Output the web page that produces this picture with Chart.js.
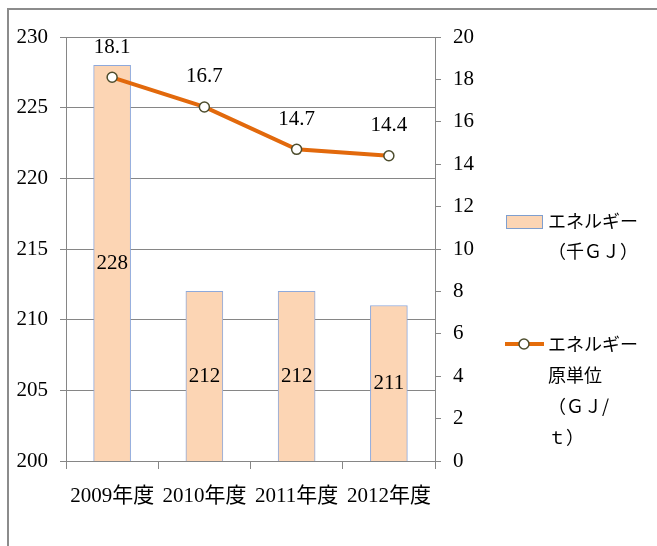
<!DOCTYPE html>
<html>
<head>
<meta charset="utf-8">
<script src="https://cdn.jsdelivr.net/npm/chart.js@4/dist/chart.umd.min.js"></script>
<style>
  html, body { margin: 0; padding: 0; background: #fff; }
</style>
</head>
<body>
<canvas id="energyChart" width="657" height="546"></canvas>
<script>
// データ
const years = ["2009年度", "2010年度", "2011年度", "2012年度"];
const energy = [228, 212, 212, 211];          // エネルギー（千ＧＪ）
const intensity = [18.1, 16.7, 14.7, 14.4];   // エネルギー原単位（ＧＪ/ｔ）
const barLegend = ["エネルギー", "（千ＧＪ）"];
const lineLegend = ["エネルギー", "原単位", "（ＧＪ/", "ｔ）"];

const serif = '"Liberation Serif", "Noto Sans CJK JP"';
const gray = "#868686";

// 値ラベル・凡例・枠線
const extras = {
  id: "extras",
  afterDatasetsDraw(chart) {
    const ctx = chart.ctx;
    const bottom = chart.chartArea.bottom;
    ctx.save();
    ctx.font = "21px " + serif;
    ctx.fillStyle = "#000";
    ctx.textAlign = "center";
    ctx.textBaseline = "middle";
    chart.getDatasetMeta(1).data.forEach((bar, i) => {
      ctx.fillText(String(energy[i]), bar.x, (bar.y + bottom) / 2);
    });
    chart.getDatasetMeta(0).data.forEach((pt, i) => {
      ctx.fillText(intensity[i].toFixed(1), pt.x, pt.y - 30);
    });
    ctx.restore();
  },
  afterDraw(chart) {
    const ctx = chart.ctx;
    const x0 = chart.chartArea.right + 71;
    ctx.save();
    // 外枠
    ctx.strokeStyle = "#8c8c8c";
    ctx.lineWidth = 2;
    ctx.beginPath();
    ctx.moveTo(8, 546);
    ctx.lineTo(8, 9);
    ctx.lineTo(657, 9);
    ctx.stroke();

    // 凡例：棒
    ctx.fillStyle = "#FCD5B4";
    ctx.fillRect(x0, 215, 36, 13);
    ctx.strokeStyle = "#7F9FCF";
    ctx.lineWidth = 1;
    ctx.strokeRect(x0 + 0.5, 215.5, 36, 13);

    ctx.font = '18px "Noto Sans CJK JP"';
    ctx.fillStyle = "#000";
    ctx.textAlign = "left";
    ctx.textBaseline = "middle";
    barLegend.forEach((t, i) => ctx.fillText(t, x0 + 42, 221 + i * 30));

    // 凡例：折れ線
    ctx.strokeStyle = "#E46C0A";
    ctx.lineWidth = 4;
    ctx.beginPath();
    ctx.moveTo(x0 - 1, 344);
    ctx.lineTo(x0 + 38, 344);
    ctx.stroke();
    ctx.beginPath();
    ctx.arc(x0 + 18, 344, 5, 0, Math.PI * 2);
    ctx.fillStyle = "#fff";
    ctx.fill();
    ctx.strokeStyle = "#4D4D2D";
    ctx.lineWidth = 1.5;
    ctx.stroke();

    ctx.fillStyle = "#000";
    lineLegend.forEach((t, i) => ctx.fillText(t, x0 + 42, 344 + i * 31));
    ctx.restore();
  }
};

new Chart(document.getElementById("energyChart"), {
  data: {
    labels: years,
    datasets: [
      {
        type: "line",
        label: "エネルギー原単位",
        data: intensity,
        yAxisID: "y2",
        borderColor: "#E2690C",
        borderWidth: 4,
        pointRadius: 5,
        pointBackgroundColor: "#fff",
        pointBorderColor: "#4D4D2D",
        pointBorderWidth: 1.5,
        tension: 0
      },
      {
        type: "bar",
        label: "エネルギー",
        data: energy,
        yAxisID: "y",
        backgroundColor: "#FCD5B4",
        borderColor: "#8EA9DB",
        borderWidth: 1,
        barThickness: 37
      }
    ]
  },
  options: {
    responsive: false,
    animation: false,
    devicePixelRatio: 1,
    layout: { padding: { top: 37, left: 0, right: 0, bottom: 0 } },
    plugins: {
      legend: { display: false },
      tooltip: { enabled: false }
    },
    scales: {
      x: {
        offset: true,
        grid: { offset: true, drawOnChartArea: false, tickLength: 8, color: gray },
        border: { color: gray },
        ticks: { color: "#000", font: { family: serif, size: 21 }, padding: 15 },
        afterFit: (s) => { s.height = 85; }
      },
      y: {
        position: "left",
        min: 200,
        max: 230,
        ticks: { stepSize: 5, color: "#000", font: { family: serif, size: 21 }, padding: 12 },
        grid: { color: gray, tickLength: 6 },
        border: { color: gray },
        afterFit: (s) => { s.width = 66; }
      },
      y2: {
        position: "right",
        min: 0,
        max: 20,
        ticks: { stepSize: 2, color: "#000", font: { family: serif, size: 21 }, padding: 12 },
        grid: { drawOnChartArea: false, color: gray, tickLength: 6 },
        border: { color: gray },
        afterFit: (s) => { s.width = 222; }
      }
    }
  },
  plugins: [extras]
});
</script>
</body>
</html>
